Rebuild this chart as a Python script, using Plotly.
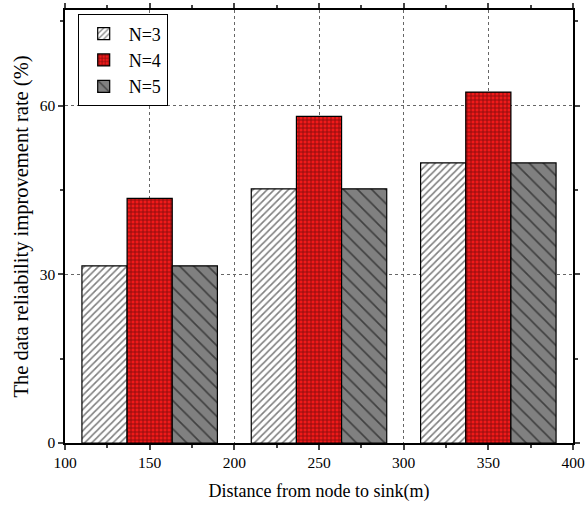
import plotly.graph_objects as go

distances = [150, 250, 350]
n3 = [31.5, 45.2, 49.8]
n4 = [43.5, 58.1, 62.4]
n5 = [31.5, 45.2, 49.8]
series_names = ["N=3", "N=4", "N=5"]

fig = go.Figure()
fig.add_trace(go.Bar(x=distances, y=n3, name=series_names[0],
                     marker=dict(color="white", line=dict(color="black", width=1.2),
                                 pattern=dict(shape="/", fgcolor="black", bgcolor="white", size=5, solidity=0.32))))
fig.add_trace(go.Bar(x=distances, y=n4, name=series_names[1],
                     marker=dict(color="#e8141b", line=dict(color="black", width=1.2),
                                 pattern=dict(shape="+", fgcolor="#200000", bgcolor="#f01a1a", size=4, solidity=0.4))))
fig.add_trace(go.Bar(x=distances, y=n5, name=series_names[2],
                     marker=dict(color="#808080", line=dict(color="black", width=1.2),
                                 pattern=dict(shape="\\", fgcolor="black", bgcolor="#808080", size=10, solidity=0.16))))

fig.update_layout(
    width=586, height=506,
    margin=dict(l=65, r=13, t=10, b=63, autoexpand=False),
    barmode="group", bargap=0.2, bargroupgap=0,
    plot_bgcolor="white", paper_bgcolor="white",
    font=dict(family="Liberation Serif", size=15.5, color="black"),
    legend=dict(x=0.025, y=0.99, xanchor="left", yanchor="top",
                bgcolor="white", bordercolor="black", borderwidth=1,
                font=dict(family="Liberation Serif", size=18), tracegroupgap=0, itemwidth=40),
    showlegend=True,
)
fig.update_xaxes(range=[100, 400], tickvals=[100, 150, 200, 250, 300, 350, 400],
                 ticks="outside", ticklen=5, tickwidth=1.5, automargin=False,
                 minor=dict(tickvals=[125, 175, 225, 275, 325, 375], ticks="outside", ticklen=3, showgrid=False),
                 showline=True, linecolor="black", linewidth=1.5, mirror="ticks",
                 showgrid=True, gridcolor="#666", griddash="dot", gridwidth=1,
                 title=dict(text="Distance from node to sink(m)", font=dict(size=18), standoff=14))
fig.update_yaxes(range=[0, 77], tickvals=[0, 30, 60],
                 ticks="outside", ticklen=5, tickwidth=1.5, automargin=False,
                 minor=dict(tickvals=[15, 45, 75], ticks="outside", ticklen=3, showgrid=False),
                 showline=True, linecolor="black", linewidth=1.5, mirror="ticks",
                 showgrid=True, gridcolor="#666", griddash="dot", gridwidth=1,
                 zeroline=False,
                 title=dict(text="The data reliability improvement rate (%)", font=dict(size=20.5), standoff=5))

fig.write_html("out.html")
